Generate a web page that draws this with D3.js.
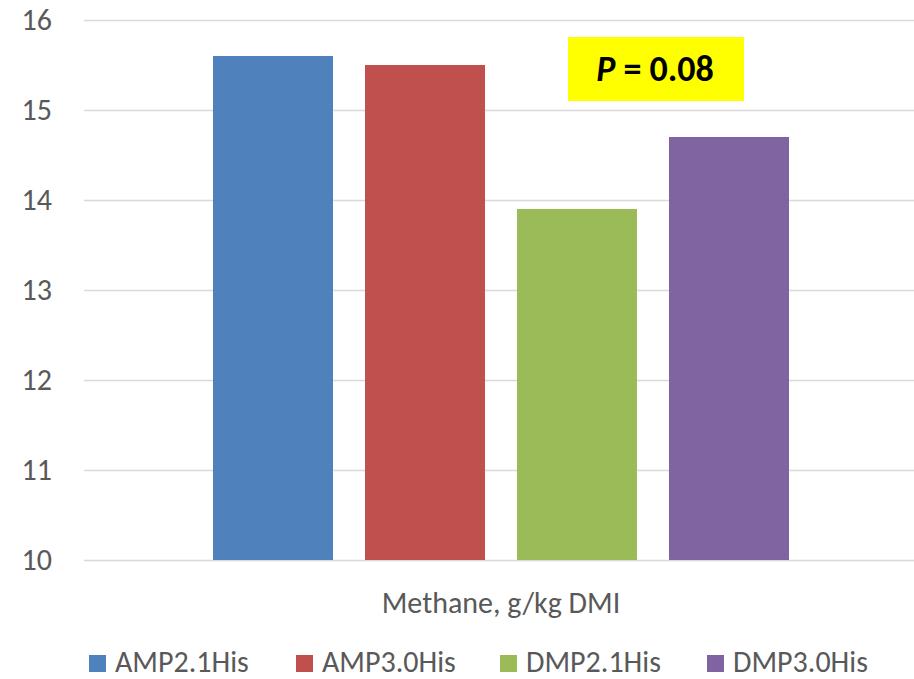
<!DOCTYPE html>
<html><head><meta charset="utf-8">
<script src="https://cdn.jsdelivr.net/npm/d3@7"></script>
<style>body{margin:0;background:#fff}svg{display:block}text{font-family:Carlito,"Liberation Sans Narrow","Open Sans",sans-serif}</style>
</head><body><div id="chart"></div>
<script>
const categories = ["AMP2.1His","AMP3.0His","DMP2.1His","DMP3.0His"];
const values = [15.6, 15.5, 13.9, 14.7];
const colors = ["#4f81bd","#c0504d","#9bbb59","#8064a2"];
const yTicks = [10,11,12,13,14,15,16];
const xLabel = "Methane, g/kg DMI";

const W = 914, H = 679;
const svg = d3.select("#chart").append("svg").attr("width", W).attr("height", H);
const y = d3.scaleLinear().domain([10,16]).range([560,20]);
const x = d3.scaleBand().domain(categories).range([213,789]).paddingInner(0.2105).paddingOuter(0);

const yAxis = d3.axisLeft(y).tickValues(yTicks).tickFormat(d3.format("d")).tickSize(-(914-84)).tickPadding(32);
const gy = svg.append("g").attr("transform","translate(84,0)").call(yAxis);
gy.select(".domain").remove();
gy.selectAll(".tick line").attr("stroke","#d9d9d9").attr("stroke-width",1.5);
gy.selectAll(".tick text").attr("fill","#595959").attr("font-size",30).attr("dy","0.33em");

svg.append("g").selectAll("rect").data(categories).join("rect")
  .attr("x", d => x(d)).attr("width", x.bandwidth())
  .attr("y", (d,i) => y(values[i])).attr("height", (d,i) => y(10) - y(values[i]))
  .attr("fill", (d,i) => colors[i]);

svg.append("text").attr("x",501).attr("y",613).attr("text-anchor","middle")
  .attr("font-size",30).attr("fill","#595959").text(xLabel);

// P value annotation
svg.append("rect").attr("x",568).attr("y",37).attr("width",176).attr("height",64).attr("fill","#ffff00");
const pt = svg.append("text").attr("x",655).attr("y",81).attr("text-anchor","middle")
  .attr("font-size",36).attr("font-weight","bold").attr("fill","#000");
pt.append("tspan").attr("font-style","italic").text("P");
pt.append("tspan").text(" = 0.08");

// legend
const legX = [89, 296, 500, 707];
const lg = svg.append("g").selectAll("g").data(categories).join("g")
  .attr("transform", (d,i) => `translate(${legX[i]},655)`);
lg.append("rect").attr("width",17).attr("height",17).attr("fill",(d,i)=>colors[i]);
lg.append("text").attr("x",26).attr("y",16.5).attr("font-size",30).attr("fill","#595959").text(d=>d);
</script></body></html>
